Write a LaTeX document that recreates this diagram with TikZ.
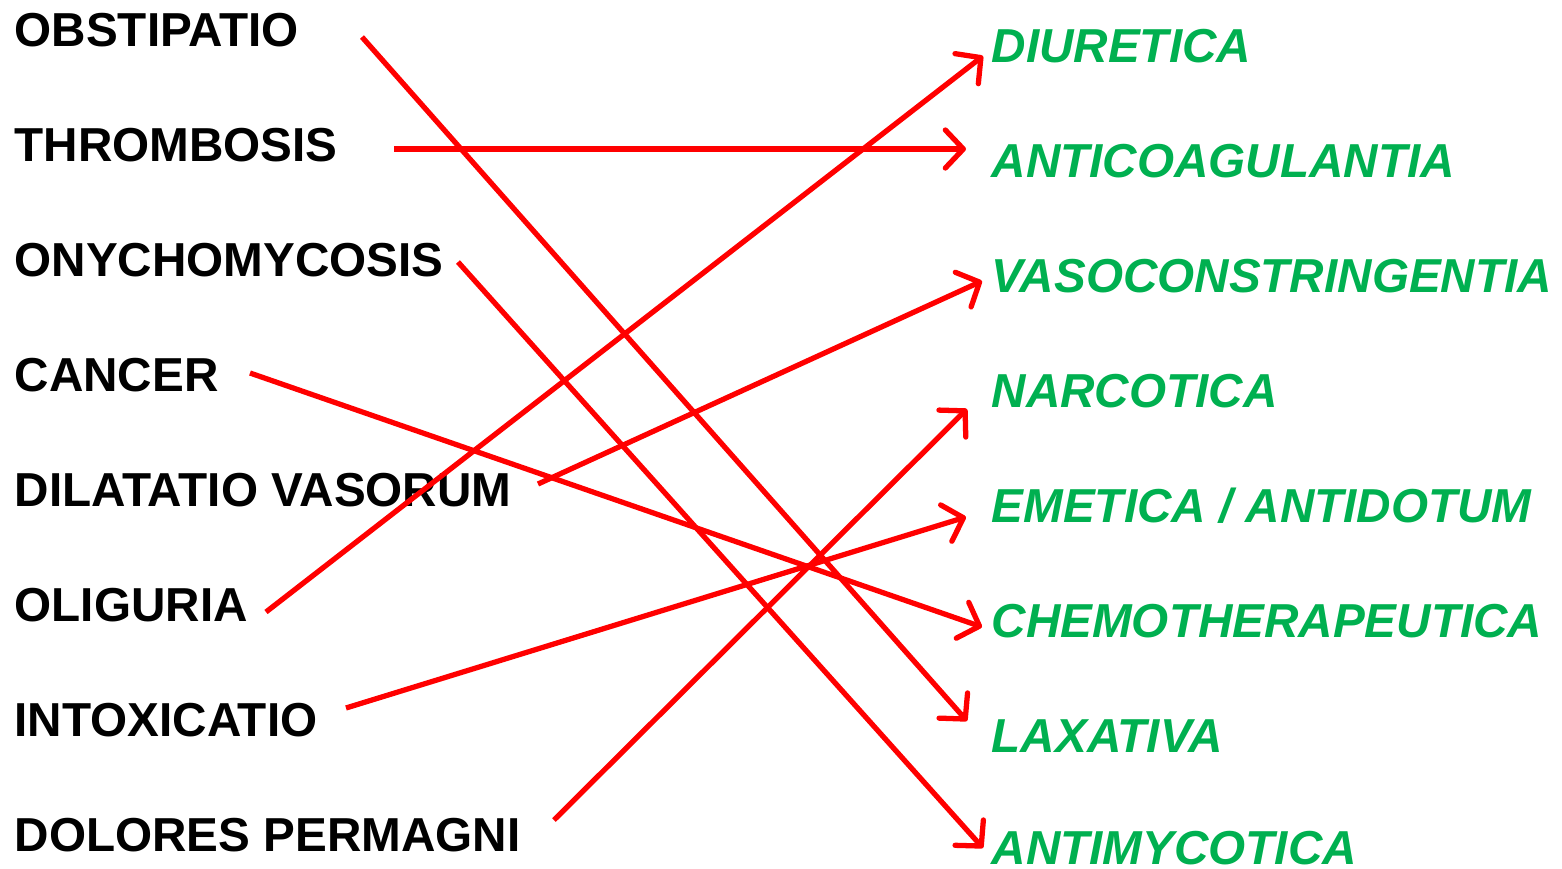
\documentclass[tikz,border=0pt]{standalone}
\usepackage{fontspec}
\setmainfont{Liberation Sans}
\usetikzlibrary{arrows.meta}
\definecolor{lblgreen}{HTML}{00B050}
\definecolor{arrred}{HTML}{FF0000}
\begin{document}
\begin{tikzpicture}[x=0.01cm,y=-0.01cm,
  leftlbl/.style={anchor=base west,inner sep=0pt,font=\fontsize{13.55pt}{15pt}\selectfont\bfseries,text=black},
  rightlbl/.style={anchor=base west,inner sep=0pt,font=\fontsize{13.55pt}{15pt}\selectfont\bfseries\itshape,text=lblgreen},
  link/.style={draw=arrred,line width=1.5pt,-{Straight Barb[length=0.18cm,width=0.38cm,line width=1.5pt,round]}}]
\useasboundingbox (0,0) rectangle (1562,869);
% left labels
\node[leftlbl] (L1) at (14,46) {OBSTIPATIO};
\node[leftlbl] (L2) at (14,161) {THROMBOSIS};
\node[leftlbl] (L3) at (14,276) {ONYCHOMYCOSIS};
\node[leftlbl] (L4) at (14,391) {CANCER};
\node[leftlbl] (L5) at (14,506) {DILATATIO VASORUM};
\node[leftlbl] (L6) at (14,621) {OLIGURIA};
\node[leftlbl] (L7) at (14,736) {INTOXICATIO};
\node[leftlbl] (L8) at (14,851) {DOLORES PERMAGNI};
% right labels
\node[rightlbl] (R1) at (991,62) {DIURETICA};
\node[rightlbl] (R2) at (991,177) {ANTICOAGULANTIA};
\node[rightlbl] (R3) at (991,292) {VASOCONSTRINGENTIA};
\node[rightlbl] (R4) at (991,407) {NARCOTICA};
\node[rightlbl] (R5) at (991,522) {EMETICA / ANTIDOTUM};
\node[rightlbl] (R6) at (991,637) {CHEMOTHERAPEUTICA};
\node[rightlbl] (R7) at (991,752) {LAXATIVA};
\node[rightlbl] (R8) at (991,864) {ANTIMYCOTICA};
% connector ends
\coordinate (s1) at (362,37);  \coordinate (e1) at (967,721);
\coordinate (s2) at (394,149); \coordinate (e2) at (966,149);
\coordinate (s3) at (458,262); \coordinate (e3) at (983,848);
\coordinate (s4) at (250,373); \coordinate (e4) at (982,627);
\coordinate (s5) at (538,484); \coordinate (e5) at (982,281);
\coordinate (s6) at (266,612); \coordinate (e6) at (983,56);
\coordinate (s7) at (346,708); \coordinate (e7) at (966,517);
\coordinate (s8) at (554,820); \coordinate (e8) at (967,409);
\draw[link] (s1) -- (e1);
\draw[link] (s2) -- (e2);
\draw[link] (s3) -- (e3);
\draw[link] (s4) -- (e4);
\draw[link] (s5) -- (e5);
\draw[link] (s6) -- (e6);
\draw[link] (s7) -- (e7);
\draw[link] (s8) -- (e8);
\end{tikzpicture}
\end{document}
